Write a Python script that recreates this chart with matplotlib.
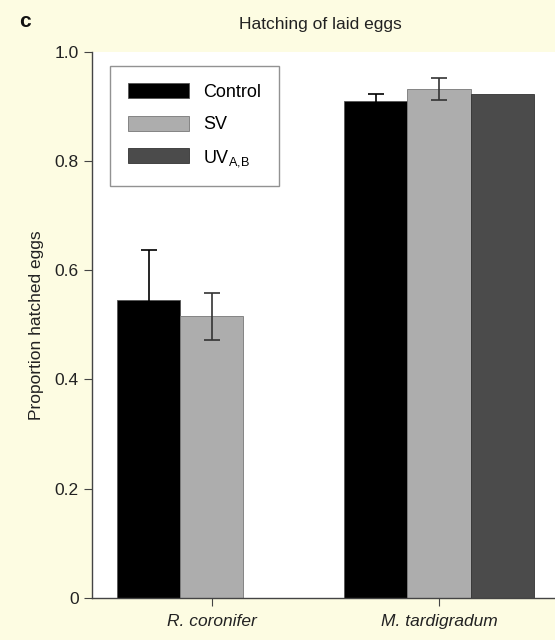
import matplotlib
matplotlib.use('Agg')
import matplotlib.pyplot as plt
import numpy as np

plt.rcParams['font.family'] = ['Liberation Sans', 'DejaVu Sans']

# données
species = ['R. coronifer', 'M. tardigradum']
treatments = ['Control', 'SV', '$\\mathregular{UV_{A{,}B}}$']
control = [0.546, 0.910]
control_err = [0.091, 0.013]
sv = [0.516, 0.932]
sv_err = [0.043, 0.020]
uv = [np.nan, 0.922]

colors = ['#000000', '#adadad', '#4b4b4b']

fig = plt.figure(figsize=(5.55, 6.4), dpi=100, facecolor='#fdfce2')
ax = fig.add_axes([0.166, 0.066, 0.834, 0.853])
ax.set_facecolor('white')

x = np.arange(len(species))
w = 0.277
# erreur en noir : la partie basse disparaît dans la barre noire
ax.bar(x - w, control, w, yerr=control_err, color=colors[0],
       edgecolor='#555555', linewidth=0.6, label=treatments[0],
       error_kw=dict(ecolor='#000000', capsize=6, elinewidth=1.2, capthick=1.2))
ax.bar(x, sv, w, yerr=sv_err, color=colors[1], edgecolor='#777777',
       linewidth=0.6, label=treatments[1], error_kw=dict(ecolor='#333333', capsize=6, elinewidth=1.2, capthick=1.2))
ax.bar(x + w, uv, w, color=colors[2], edgecolor='#333333',
       linewidth=0.6, label=treatments[2])

ax.set_xlim(-0.525, 1.51)
ax.set_ylim(0, 1.0)
ax.set_yticks([0, 0.2, 0.4, 0.6, 0.8, 1.0])
ax.set_yticklabels(['0', '0.2', '0.4', '0.6', '0.8', '1.0'])
ax.set_xticks(x)
ax.set_xticklabels(species, fontstyle='italic')

for s in ['top', 'right']:
    ax.spines[s].set_visible(False)
for s in ['left', 'bottom']:
    ax.spines[s].set_color('#444444')
    ax.spines[s].set_linewidth(1.0)
ax.tick_params(axis='both', direction='out', length=6, color='#444444', labelsize=12.5, colors='#222222')
ax.tick_params(axis='x', pad=6)

ax.set_ylabel('Proportion hatched eggs', fontsize=12.5, color='#222222', labelpad=8)

leg = ax.legend(loc='upper left', bbox_to_anchor=(0.02, 0.99), fontsize=13, frameon=True,
                fancybox=False, edgecolor='#777777', handlelength=3.4, handleheight=0.9,
                borderpad=0.95, labelspacing=0.8, handletextpad=0.8)
leg.get_frame().set_linewidth(1.0)

fig.text(0.578, 0.962, 'Hatching of laid eggs', ha='center', va='center', fontsize=12.5, color='#222222')
fig.text(0.034, 0.966, 'c', ha='left', va='center', fontsize=15, fontweight='bold', color='#111111')

fig.savefig('out.png', dpi=100, facecolor=fig.get_facecolor())
